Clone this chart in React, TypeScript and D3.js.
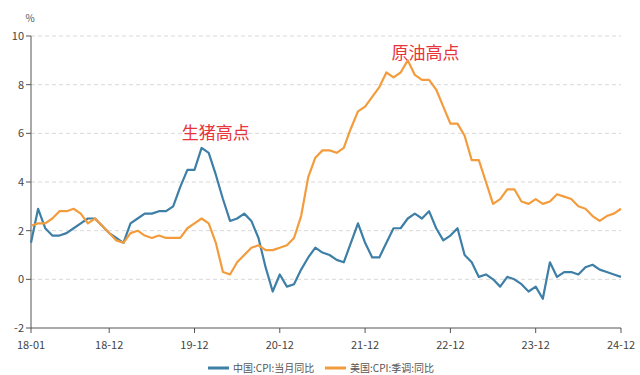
import * as React from 'react';
import * as d3 from "d3";

// monthly, 2018-01 .. 2024-12
const chinaCpi = [
    1.5, 2.9, 2.1, 1.8, 1.8, 1.9, 2.1, 2.3, 2.5, 2.5, 2.2, 1.9,
    1.7, 1.5, 2.3, 2.5, 2.7, 2.7, 2.8, 2.8, 3.0, 3.8, 4.5, 4.5,
    5.4, 5.2, 4.3, 3.3, 2.4, 2.5, 2.7, 2.4, 1.7, 0.5, -0.5, 0.2,
    -0.3, -0.2, 0.4, 0.9, 1.3, 1.1, 1.0, 0.8, 0.7, 1.5, 2.3, 1.5,
    0.9, 0.9, 1.5, 2.1, 2.1, 2.5, 2.7, 2.5, 2.8, 2.1, 1.6, 1.8,
    2.1, 1.0, 0.7, 0.1, 0.2, 0.0, -0.3, 0.1, 0.0, -0.2, -0.5, -0.3,
    -0.8, 0.7, 0.1, 0.3, 0.3, 0.2, 0.5, 0.6, 0.4, 0.3, 0.2, 0.1
];

const usCpi = [
    2.2, 2.3, 2.3, 2.5, 2.8, 2.8, 2.9, 2.7, 2.3, 2.5, 2.2, 1.9,
    1.6, 1.5, 1.9, 2.0, 1.8, 1.7, 1.8, 1.7, 1.7, 1.7, 2.1, 2.3,
    2.5, 2.3, 1.5, 0.3, 0.2, 0.7, 1.0, 1.3, 1.4, 1.2, 1.2, 1.3,
    1.4, 1.7, 2.6, 4.2, 5.0, 5.3, 5.3, 5.2, 5.4, 6.2, 6.9, 7.1,
    7.5, 7.9, 8.5, 8.3, 8.5, 9.0, 8.4, 8.2, 8.2, 7.8, 7.1, 6.4,
    6.4, 5.9, 4.9, 4.9, 4.0, 3.1, 3.3, 3.7, 3.7, 3.2, 3.1, 3.3,
    3.1, 3.2, 3.5, 3.4, 3.3, 3.0, 2.9, 2.6, 2.4, 2.6, 2.7, 2.9
];

const xTickLabels = ["18-01", "18-12", "19-12", "20-12", "21-12", "22-12", "23-12", "24-12"];
const yTicks = [-2, 0, 2, 4, 6, 8, 10];

const seriesNames = ["中国:CPI:当月同比", "美国:CPI:季调:同比"];
const seriesColors = ["#3d7fa6", "#f39c3d"];

// label centres in data units (month index, %)
const notes = [
    { text: "生猪高点", month: 26, value: 6.0 },
    { text: "原油高点", month: 55.5, value: 9.3 }
];

const width = 640;
const height = 375;
const margin = { left: 31, right: 18, top: 36, bottom: 47 };
const font = "'Noto Sans CJK SC', 'Noto Sans', sans-serif";

function monthIndex(label: string) {
    const [yy, mm] = label.split("-").map(Number);
    return (yy - 18) * 12 + mm - 1;
}

export default class App extends React.Component {
    render() {
        const x = d3.scaleLinear()
            .domain([0, chinaCpi.length - 1])
            .range([margin.left, width - margin.right - 1]);

        const y = d3.scaleLinear()
            .domain([-2, 10])
            .range([height - margin.bottom, margin.top]);

        const line = d3.line<number>()
            .curve(d3.curveLinear)
            .x((_, i) => x(i))
            .y(v => y(v));

        const series = [chinaCpi, usCpi];
        const x0 = x.range()[0], x1 = x.range()[1];
        const yBottom = y(-2);

        return (
            <svg width={width} height={height} style={{ position: "absolute", left: 0, top: 0, background: "#fff" }} fontFamily={font}>
                {yTicks.filter(t => t > -2).map(t => (
                    <line key={"g" + t} x1={x0} x2={x1} y1={y(t)} y2={y(t)}
                        stroke="#d9d9d9" strokeDasharray="4,3" strokeWidth={1} />
                ))}

                <line x1={x0} x2={x0} y1={y(10)} y2={yBottom} stroke="#555" strokeWidth={1} />
                <line x1={x0} x2={x1} y1={yBottom} y2={yBottom} stroke="#555" strokeWidth={1} />

                {yTicks.map(t => (
                    <g key={"y" + t}>
                        <line x1={x0 - 5} x2={x0} y1={y(t)} y2={y(t)} stroke="#555" />
                        <text x={x0 - 7} y={y(t)} dy="0.35em" textAnchor="end" fontSize={11} fill="#444">{t}</text>
                    </g>
                ))}
                <text x={30} y={22} textAnchor="middle" fontSize={10} fill="#555">%</text>

                {xTickLabels.map(l => {
                    const px = x(monthIndex(l));
                    return (
                        <g key={l}>
                            <line x1={px} x2={px} y1={yBottom} y2={yBottom + 5} stroke="#555" />
                            <text x={px} y={yBottom + 21} textAnchor="middle" fontSize={11} fill="#444">{l}</text>
                        </g>
                    );
                })}

                {series.map((s, i) => (
                    <path key={i} d={line(s) || undefined} fill="none"
                        stroke={seriesColors[i]} strokeWidth={2.2} strokeLinejoin="round" />
                ))}

                {notes.map(n => (
                    <text key={n.text} x={x(n.month)} y={y(n.value)} dy="0.35em" textAnchor="middle"
                        fontSize={17} fill="#e8333b">{n.text}</text>
                ))}

                {seriesNames.map((name, i) => {
                    const lx = 208 + i * 117;
                    return (
                        <g key={name}>
                            <line x1={lx} x2={lx + 21} y1={368} y2={368} stroke={seriesColors[i]} strokeWidth={3} />
                            <text x={lx + 25} y={368} dy="0.35em" fontSize={10} fill="#555">{name}</text>
                        </g>
                    );
                })}
            </svg>
        );
    }
}
